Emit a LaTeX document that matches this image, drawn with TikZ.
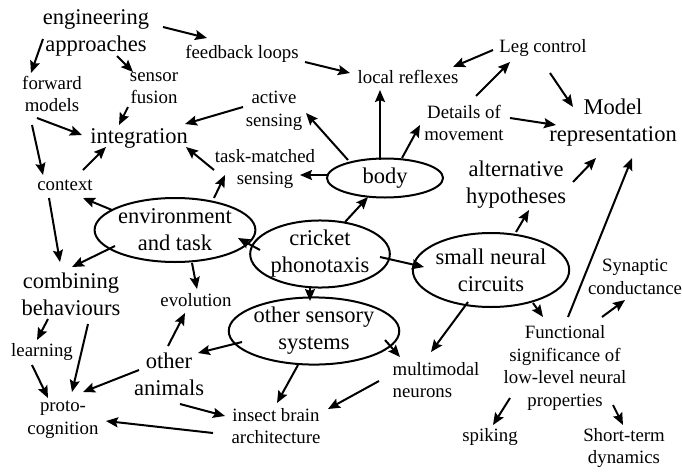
\documentclass[tikz,border=0pt]{standalone}
\usepackage{fontspec}
\setmainfont{Liberation Serif}
\usetikzlibrary{shapes.geometric,arrows.meta}
\tikzset{
  sm/.style={font=\fontsize{18.8}{22.6}\selectfont, align=center, inner sep=0pt},
  bg/.style={font=\fontsize{22.5}{27}\selectfont, align=center, inner sep=0pt},
  ell/.style={bg, ellipse, draw, line width=2pt},
  arr/.style={line width=2pt, -{Stealth[length=12pt,width=10pt,inset=2pt]}}
}
\newcommand\link[4]{\draw[arr] ([shift={(#2)}]#1.center) -- ([shift={(#4)}]#3.center);}
\begin{document}
\begin{tikzpicture}[x=1pt,y=-1pt]
\useasboundingbox (0,0) rectangle (682,471);
% nodes
\node[bg] (eng) at (96,33) {engineering\\approaches};
\node[sm] (fb) at (242,54) {feedback loops};
\node[sm] (lr) at (408,77) {local reflexes};
\node[sm] (leg) at (543,48) {Leg control};
\node[bg] (model) at (613,123) {Model\\representation};
\node[sm] (det) at (464,123) {Details of\\movement};
\node[sm] (act) at (274,111) {active\\sensing};
\node[sm] (tms) at (265,169) {task-matched\\sensing};
\node[ell, minimum width=116pt, minimum height=39pt] (body) at (385,178) {body};
\node[ell, minimum width=121pt, minimum height=66pt] (cp) at (320,254) {cricket\\phonotaxis};
\node[ell, minimum width=137pt, minimum height=64pt] (env) at (175,230) {environment\\and task};
\node[ell, minimum width=144pt, minimum height=74pt] (snc) at (491,270) {small neural\\circuits};
\node[ell, minimum width=144pt, minimum height=60pt] (oss) at (314,331) {other sensory\\systems};
\node[bg] (alt) at (516,185) {alternative\\hypotheses};
\node[sm] (syn) at (635,277) {Synaptic\\conductance};
\node[sm] (func) at (565,368) {Functional\\significance of\\low-level neural\\properties};
\node[sm] (spk) at (490,437) {spiking};
\node[sm] (stm) at (624,448) {Short-term\\dynamics};
\node[sm, align=left] (mm) at (436,380) {multimodal\\neurons};
\node[sm] (iba) at (276,426) {insect brain\\architecture};
\node[sm] (pc) at (63,420) {proto-\\cognition};
\node[sm] (lrn) at (42,352) {learning};
\node[bg] (oa) at (169,374) {other\\animals};
\node[bg] (cb) at (71,294) {combining\\behaviours};
\node[sm] (evo) at (196,300) {evolution};
\node[sm] (ctx) at (65,185) {context};
\node[bg] (int) at (139,138) {integration};
\node[sm] (fm) at (52,94) {forward\\models};
\node[sm] (sf) at (154,88) {sensor\\fusion};
% connectors
\link{eng}{67,-6}{fb}{-35,-16}
\link{eng}{-53,6}{fm}{-21,-21}
\link{eng}{21,23}{sf}{-21,-16}
\link{fb}{63,8}{lr}{-58,-4}
\link{leg}{-50,2}{lr}{45,-10}
\link{det}{12,-27}{leg}{-33,14}
\link{leg}{7,25}{model}{-40,-16}
\link{det}{46,-5}{model}{-57,2}
\link{body}{-5,-18}{lr}{-28,13}
\link{body}{17,-20}{det}{-44,2}
\link{body}{-37,-18}{act}{32,2}
\link{body}{-57,-3}{tms}{35,6}
\link{sf}{-26,19}{int}{-20,-13}
\link{fm}{-15,24}{int}{-57,-3}
\link{act}{-31,-4}{int}{46,-14}
\link{tms}{-51,1}{int}{47,9}
\link{ctx}{18,-15}{int}{-33,9}
\link{fm}{-20,31}{ctx}{-22,-10}
\link{ctx}{-16,13}{cb}{-11,-32}
\link{env}{-63,-20}{ctx}{18,13}
\link{env}{-60,16}{cb}{1,-27}
\link{env}{39,-32}{tms}{-40,6}
\link{env}{17,33}{evo}{1,-11}
\link{cp}{-60,-4}{env}{63,8}
\link{cp}{25,-32}{body}{-17,19}
\link{cp}{60,3}{snc}{-67,-3}
\link{cp}{-10,33}{oss}{-4,-30}
\link{snc}{25,-38}{alt}{13,25}
\link{alt}{57,-3}{model}{-17,35}
\link{func}{3,-51}{model}{19,35}
\link{snc}{42,33}{func}{-22,-51}
\link{func}{37,-51}{syn}{-10,23}
\link{snc}{-23,32}{mm}{-5,-28}
\link{func}{-55,30}{spk}{3,-12}
\link{func}{48,37}{stm}{-1,-23}
\link{oss}{71,9}{mm}{-36,-23}
\link{oss}{-72,11}{oa}{29,-21}
\link{oss}{-16,34}{iba}{1,-23}
\link{mm}{-57,1}{iba}{52,-17}
\link{oa}{-1,-28}{evo}{-11,13}
\link{oa}{-30,-4}{pc}{20,-28}
\link{oa}{11,30}{iba}{-51,-10}
\link{cb}{-23,25}{lrn}{-5,-12}
\link{cb}{17,30}{pc}{9,-28}
\link{lrn}{-10,13}{pc}{-15,-22}
\link{iba}{-63,7}{pc}{43,1}
\end{tikzpicture}
\end{document}
